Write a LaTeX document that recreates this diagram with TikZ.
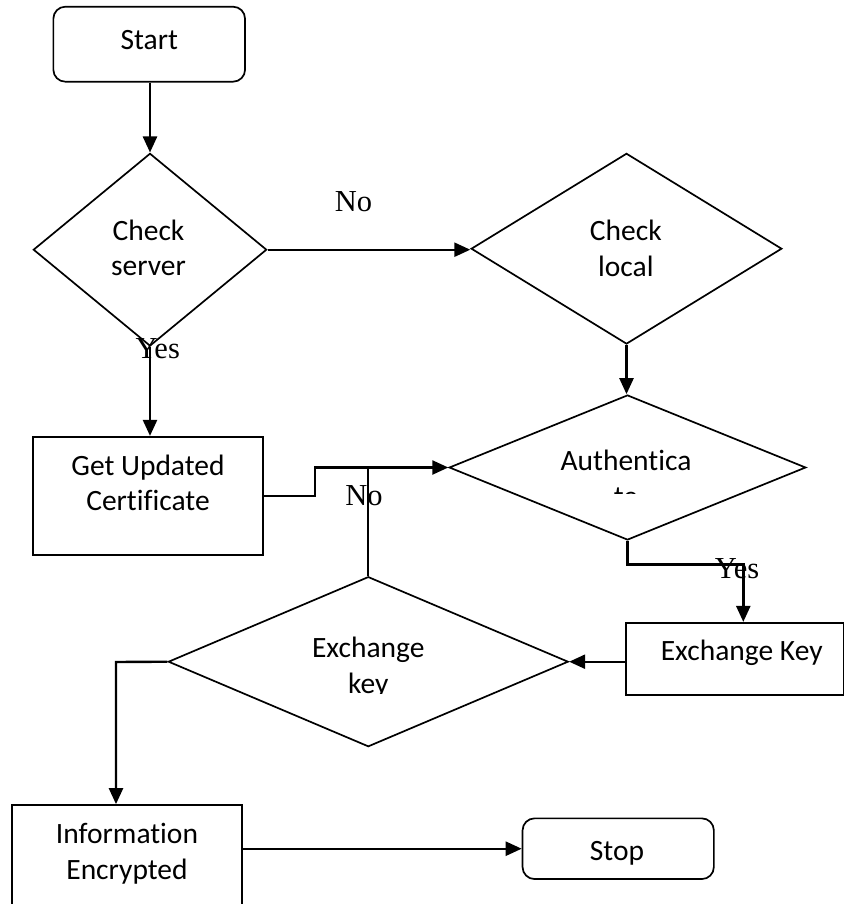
\documentclass[tikz,border=0pt]{standalone}
\usepackage{fontspec}
\setmainfont{Carlito}[Ligatures=NoCommon]
\newfontfamily\labelfont{Liberation Serif}
\usetikzlibrary{shapes.geometric,arrows.meta}
\begin{document}
\begin{tikzpicture}[x=1pt,y=-1pt,
  box/.style={draw,line width=1.7pt,inner sep=0pt,rectangle},
  term/.style={box,rounded corners=12pt},
  dec/.style={draw,line width=1.7pt,diamond,inner sep=0pt},
  txt/.style={anchor=base,inner sep=0pt,font=\fontsize{29.5}{36}\selectfont},
  lbl/.style={anchor=base,inner sep=0pt,font=\labelfont\fontsize{30.5}{36}\selectfont},
  flow/.style={line width=2.4pt,-{Triangle[length=16pt,width=14pt]}},
  link/.style={line width=2pt}]
\useasboundingbox (0,0) rectangle (845,904);

% shapes
\node[term,minimum width=191.7pt,minimum height=75pt] (start) at (149.2,44.2) {};
\node[dec,minimum width=233.4pt,minimum height=192.7pt] (cs) at (150,249.7) {};
\node[dec,minimum width=310.7pt,minimum height=190.7pt] (cl) at (626.5,248.7) {};
\node[box,minimum width=230pt,minimum height=118.3pt] (gu) at (148.3,495.9) {};
\node[dec,minimum width=356.7pt,minimum height=145pt] (auth) at (627.5,467.5) {};
\node[box,minimum width=217.8pt,minimum height=72.3pt] (ekr) at (734.6,658.9) {};
\node[dec,minimum width=400pt,minimum height=170pt] (ekd) at (368.3,661.7) {};
\node[box,minimum width=230pt,minimum height=115pt] (info) at (127,862.5) {};
\node[term,minimum width=191.3pt,minimum height=60.7pt] (stop) at (618.2,848.7) {};

% texts
\node[txt] (tstart) at (149.3,50) {Start};
\node[txt] (tcs1) at (148.5,240) {Check};
\node[txt] (tcs2) at (148.5,275) {server};
\node[txt] (tcl1) at (625.8,240) {Check};
\node[txt] (tcl2) at (625.8,276) {local};
\node[txt] (tgu1) at (148,475) {Get Updated};
\node[txt] (tgu2) at (148,510.7) {Certificate};
\node[txt] (tau1) at (626,470) {Authentica};
\begin{scope}
  \clip (540,480) rectangle (720,493.3);
  \node[txt] (tau2) at (626,506) {te};
\end{scope}
\node[txt] (tekd1) at (368.3,657.7) {Exchange};
\begin{scope}
  \clip (300,670) rectangle (440,693.5);
  \node[txt] (tekd2) at (368.3,693.3) {key};
\end{scope}
\node[txt] (tekr) at (741.7,660) {Exchange Key};
\node[txt] (tin1) at (127,843.3) {Information};
\node[txt] (tin2) at (127,879.3) {Encrypted};
\node[txt] (tstop) at (617,860) {Stop};

% labels
\node[lbl] (lno1) at (353.5,211.7) {No};
\node[lbl] (lyes1) at (157.7,358.3) {Yes};
\node[lbl] (lno2) at (364,505) {No};
\node[lbl] (lyes2) at (737,578.3) {Yes};

% connectors
\draw[flow] (start.south -| cs.north) -- (cs.north);
\draw[flow] (cs.east) -- (cs.east -| cl.west);
\draw[flow] (cl.south) -- (cl.south |- auth.north);
\draw[flow] (cs.south) -- (cs.south |- gu.north);
\draw[flow] (gu.east) -- ++(51,0) |- (auth.west);
\draw[link] (ekd.north) -- (ekd.north |- auth.west);
\coordinate (j1) at (743.3,564.3);
\draw[flow] (auth.south) |- (j1) -- (j1 |- ekr.north);
\draw[flow] (ekr.west |- ekd.east) -- (ekd.east);
\coordinate (j2) at (116,662);
\draw[flow] (ekd.west) -- (j2) -- (j2 |- info.north);
\draw[flow] (info.east |- stop.west) -- (stop.west);
\end{tikzpicture}
\end{document}
